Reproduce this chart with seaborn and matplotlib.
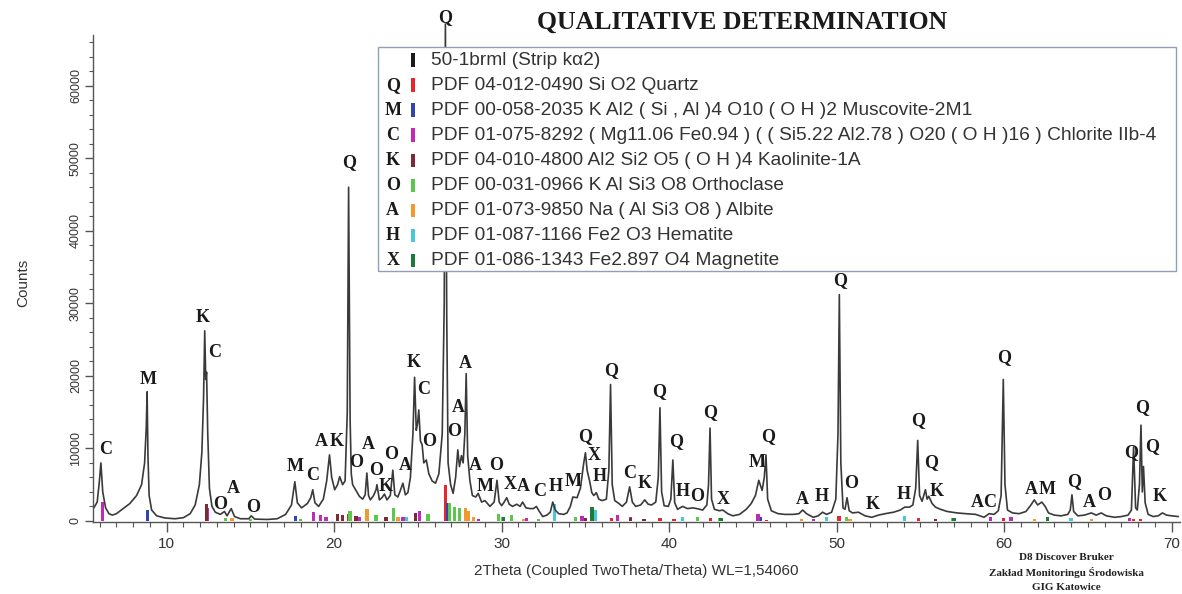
import numpy as np
import pandas as pd
import matplotlib
matplotlib.use("Agg")
import matplotlib.pyplot as plt
from matplotlib.patches import Rectangle
from matplotlib.ticker import MultipleLocator
import seaborn as sns

trace_2theta = [
    5.65, 5.85, 5.98, 6.07, 6.18, 6.35, 6.55, 6.75, 7.0, 7.4, 7.8, 8.2, 8.5,
    8.68, 8.78, 8.83, 8.88, 8.95, 9.1, 9.4, 9.9, 10.5, 11.0, 11.4, 11.7, 11.95,
    12.1, 12.2, 12.27, 12.33, 12.38, 12.45, 12.55, 12.7, 12.9, 13.2, 13.45,
    13.6, 13.85, 14.05, 14.4, 14.9, 15.05, 15.25, 16.0, 16.6, 17.1, 17.45,
    17.65, 17.8, 18.05, 18.4, 18.6, 18.72, 18.85, 19.07, 19.35, 19.55, 19.72,
    19.85, 20.03, 20.2, 20.33, 20.5, 20.65, 20.78, 20.86, 20.95, 21.02, 21.1,
    21.3, 21.5, 21.7, 21.85, 21.95, 22.05, 22.16, 22.35, 22.5, 22.55, 22.7,
    22.85, 23.0, 23.15, 23.35, 23.5, 23.62, 23.8, 23.95, 24.1, 24.25, 24.4,
    24.55, 24.7, 24.8, 24.9, 24.98, 25.05, 25.15, 25.25, 25.35, 25.5, 25.65,
    25.85, 26.05, 26.25, 26.45, 26.57, 26.64, 26.72, 26.8, 26.95, 27.1, 27.25,
    27.38, 27.48, 27.6, 27.7, 27.8, 27.88, 27.97, 28.1, 28.25, 28.45, 28.6,
    28.8, 29.0, 29.3, 29.55, 29.72, 29.85, 30.0, 30.15, 30.3, 30.45, 30.65,
    30.9, 31.1, 31.25, 31.45, 31.7, 31.9, 32.07, 32.25, 32.45, 32.7, 32.9,
    33.05, 33.2, 33.4, 33.7, 33.9, 34.1, 34.25, 34.5, 34.7, 34.9, 35.0, 35.1,
    35.25, 35.38, 35.5, 35.65, 35.8, 36.0, 36.25, 36.4, 36.5, 36.6, 36.75,
    37.0, 37.2, 37.45, 37.64, 37.8, 38.0, 38.3, 38.54, 38.75, 38.95, 39.2,
    39.35, 39.45, 39.55, 39.7, 39.95, 40.1, 40.22, 40.33, 40.5, 40.8, 41.1,
    41.4, 41.65, 42.0, 42.25, 42.35, 42.44, 42.53, 42.7, 43.0, 43.2, 43.5,
    43.8, 44.2, 44.6, 44.9, 45.15, 45.35, 45.55, 45.68, 45.78, 45.88, 46.1,
    46.5, 46.9, 47.4, 47.75, 47.97, 48.2, 48.6, 48.9, 49.16, 49.4, 49.7, 49.95,
    50.08, 50.16, 50.25, 50.38, 50.5, 50.62, 50.75, 50.95, 51.3, 51.7, 52.1,
    52.5, 52.9, 53.4, 53.8, 54.06, 54.35, 54.55, 54.72, 54.84, 54.95, 55.1,
    55.3, 55.4, 55.5, 55.7, 55.9, 56.2, 56.6, 57.2, 57.7, 58.3, 58.8, 59.1,
    59.4, 59.65, 59.82, 59.95, 60.05, 60.2, 60.5, 60.9, 61.3, 61.6, 61.8, 62.0,
    62.25, 62.45, 62.65, 63.0, 63.4, 63.8, 63.95, 64.05, 64.15, 64.4, 64.8,
    65.2, 65.5, 65.8, 66.1, 66.6, 67.0, 67.4, 67.6, 67.73, 67.85, 67.95, 68.08,
    68.17, 68.25, 68.32, 68.42, 68.6, 68.9, 69.2, 69.45, 69.7, 70.0, 70.4,
]
trace_counts = [
    1800, 2600, 5500, 8000, 4000, 1800, 1000, 800, 1000, 1700, 2400, 3500, 5000,
    8000, 13000, 17800, 9000, 3500, 1500, 700, 400, 300, 450, 1000, 2200, 5000,
    9500, 17000, 26200, 19500, 20500, 12000, 4500, 2000, 1200, 900, 1300,
    700, 1700, 600, 300, 300, 700, 250, 200, 300, 900, 2200,
    5400, 2500, 1800, 2400, 3200, 4300, 2500, 2000, 3000, 5500, 9100,
    6000, 4300, 5000, 6100, 5000, 5500, 15000, 46000, 14000, 6500, 5000,
    4200, 3400, 3000, 3600, 6600, 3500, 2900, 3500, 4300, 5000, 2900,
    3200, 3700, 2900, 3500, 7000, 3600, 3300, 4200, 5200, 3600, 3900,
    6000, 12000, 19800, 12500, 13500, 15300, 11000, 10500, 8000, 8400, 6500,
    5500, 5200, 6500, 12000, 30000, 68500, 28000, 8000, 5000, 3800, 6000,
    9800, 7500, 9000, 8000, 12000, 20300, 9000, 5600, 3500, 3300, 3800,
    2600, 2800, 2000, 2600, 5600, 2600, 2100, 2600, 3200, 2300, 2000,
    2300, 2000, 2600, 1800, 1700, 1700, 2000, 1300, 600, 800, 1200,
    2600, 1500, 1000, 900, 1100, 2000, 3300, 3200, 4500, 8000, 9400, 7000,
    5500, 3900, 3500, 3900, 3000, 2800, 3000, 7000, 18800, 5000, 2800,
    2400, 2000, 2600, 4700, 2600, 2000, 2200, 2900, 2300, 2200, 2600,
    6000, 15600, 4000, 2100, 2000, 3000, 8400, 2500, 1600, 2000, 1700,
    1800, 1700, 1500, 2200, 5000, 12800, 3000, 1600, 1400, 1500, 1000,
    700, 900, 1600, 2400, 3500, 5600, 4200, 6000, 9100, 3000, 1400,
    1000, 900, 900, 1000, 1500, 1000, 500, 700, 1200, 900, 1200, 3000,
    12000, 31200, 8000, 1800, 1600, 3200, 1400, 1100, 1200, 700, 500,
    800, 1000, 1200, 1500, 1900, 1900, 2200, 4500, 11100, 3500, 2700,
    4300, 3000, 3400, 2400, 1900, 1600, 1300, 1100, 1000, 900, 500, 1000,
    900, 1400, 3500, 19500, 5000, 1500, 1100, 1000, 1300, 2200, 2900, 2200,
    2600, 2000, 1100, 800, 700, 900, 1500, 3600, 1300, 700, 800,
    1100, 800, 1100, 700, 500, 600, 800, 1500, 10200, 1800, 1500, 5000,
    13200, 4000, 7500, 2500, 900, 600, 700, 1100, 800, 700, 600,
]

# ── Reference patterns (stick positions and heights) ─────────────────────────

quartz_pos = [20.86, 26.64, 36.54, 39.46, 40.28, 42.45, 45.8, 50.14, 54.87, 59.96, 64.03, 67.74, 68.14]
quartz_h   = [1000, 5000, 400, 350, 250, 350, 150, 700, 400, 400, 300, 250, 300]
musc_pos   = [8.84, 17.7, 26.8, 34.9, 45.45]
musc_h     = [1500, 700, 2500, 400, 600]
chlor_pos  = [6.16, 12.45, 18.78, 19.2, 19.5, 21.5, 24.1, 25.1, 28.6, 31.5, 34.8, 36.9, 37.7, 45.3, 48.6, 59.2, 60.4, 67.5]
chlor_h    = [2600, 1800, 1200, 800, 500, 600, 600, 1300, 300, 400, 700, 800, 500, 1000, 300, 500, 600, 400]
kaol_pos   = [12.36, 20.2, 20.5, 21.3, 23.1, 24.85, 35.0, 37.7, 38.5, 55.9]
kaol_h     = [2300, 900, 800, 700, 500, 1100, 400, 400, 300, 300]
orth_pos   = [13.5, 15.0, 18.0, 20.95, 22.5, 23.55, 25.6, 26.9, 27.2, 27.5, 29.8, 30.05, 30.6, 32.2, 34.4, 41.7, 43.0, 50.6, 56.9]
orth_h     = [400, 300, 300, 1300, 800, 1800, 900, 2500, 1900, 1800, 1000, 600, 800, 300, 600, 600, 400, 500, 400]
albite_pos = [13.9, 21.95, 23.8, 27.85, 28.0, 28.3, 31.3, 47.9, 50.8, 61.8, 65.2]
albite_h   = [400, 1600, 500, 1800, 1300, 500, 300, 200, 300, 300, 200]
hem_pos    = [24.3, 33.15, 35.6, 40.8, 49.4, 54.06, 64.0]
hem_h      = [500, 2300, 1500, 500, 600, 700, 400]
magn_pos   = [30.1, 35.4, 43.1, 57.0, 62.6]
magn_h     = [500, 1900, 400, 400, 600]

# ── Peak identification letters ──────────────────────────────────────────────

label_letters = list("CMKCOAOMCAKQOAOKOAKCOQOAAAMOXACHMQXHQCKQQHOQXMQAHQOKHQQKACQAMQAOQQQK")
label_x = [
    6.36, 8.87, 12.15, 12.87, 13.16, 14.0, 15.13, 17.64, 18.72, 19.25, 20.15,
    20.87, 21.3, 22.06, 22.5, 23.07, 23.4, 24.27, 24.75, 25.34, 25.64, 26.6,
    27.19, 27.43, 27.85, 28.45, 28.99, 29.64, 30.48, 31.31, 32.27, 33.22,
    34.24, 35.0, 35.55, 35.85, 36.51, 37.64, 38.54, 39.43, 40.39, 40.8, 41.64,
    42.42, 43.2, 45.28, 45.88, 47.97, 49.1, 50.18, 50.84, 52.15, 54.0, 54.84,
    55.67, 55.97, 58.42, 59.13, 59.97, 61.64, 62.54, 64.15, 65.1, 66.0, 67.61,
    68.21, 68.81, 69.28,
]
label_y = [
    9800, 19500, 28000, 23200, 2200, 4500, 1900, 7500, 6200, 10900, 10900,
    49400, 8100, 10600, 7000, 4700, 9100, 7700, 21900, 18100, 11000, 69400,
    12300, 15700, 21700, 7700, 4700, 7700, 5000, 4700, 4100, 4700,
    5400, 11600, 9000, 6100, 20800, 6600, 5100, 17800, 11000, 4000, 3300,
    15000, 3000, 8000, 11600, 2900, 3300, 33100, 5200, 2200, 3700, 13900,
    8100, 4000, 2500, 2500, 22500, 4400, 4400, 5400, 2600, 3500, 9400,
    15700, 10300, 3300,
]

# ── Legend entries ───────────────────────────────────────────────────────────

legend_letters = ["", "Q", "M", "C", "K", "O", "A", "H", "X"]
legend_colors = ["#1a1a1a", "#e8262b", "#2f45b0", "#c02ab8", "#7a2a38",
                 "#5cc84b", "#f29a2e", "#45c8d8", "#1d7a3a"]
legend_texts = [
    "50-1brml (Strip k\u03b12)",
    "PDF 04-012-0490 Si O2 Quartz",
    "PDF 00-058-2035 K Al2 ( Si , Al )4 O10 ( O H )2 Muscovite-2M1",
    "PDF 01-075-8292 ( Mg11.06 Fe0.94 ) ( ( Si5.22 Al2.78 ) O20 ( O H )16 ) Chlorite IIb-4",
    "PDF 04-010-4800 Al2 Si2 O5 ( O H )4 Kaolinite-1A",
    "PDF 00-031-0966 K Al Si3 O8 Orthoclase",
    "PDF 01-073-9850 Na ( Al Si3 O8 ) Albite",
    "PDF 01-087-1166 Fe2 O3 Hematite",
    "PDF 01-086-1343 Fe2.897 O4 Magnetite",
]

# ── Figure ───────────────────────────────────────────────────────────────────

sns.set_theme(style="white")
plt.rcParams["font.family"] = ["Liberation Sans", "DejaVu Sans"]
SERIF = ["Liberation Serif", "DejaVu Serif"]
INK = "#333333"

fig = plt.figure(figsize=(11.82, 5.94), dpi=100)
ax = fig.add_axes([0.0787, 0.1212, 0.9196, 0.820])

# reference sticks
sticks = [
    (quartz_pos, quartz_h, legend_colors[1]),
    (musc_pos, musc_h, legend_colors[2]),
    (chlor_pos, chlor_h, legend_colors[3]),
    (kaol_pos, kaol_h, legend_colors[4]),
    (orth_pos, orth_h, legend_colors[5]),
    (albite_pos, albite_h, legend_colors[6]),
    (hem_pos, hem_h, legend_colors[7]),
    (magn_pos, magn_h, legend_colors[8]),
]
for pos, h, col in sticks:
    ax.bar(pos, h, width=0.2, color=col, linewidth=0, zorder=1)

trace = pd.DataFrame({"two_theta": trace_2theta, "counts": trace_counts})
sns.lineplot(data=trace, x="two_theta", y="counts", ax=ax, estimator=None,
             sort=False, color="#3a3a3a", linewidth=1.2, zorder=2)
for line in ax.lines:
    line.set_clip_on(False)

for letter, lx, ly in zip(label_letters, label_x, label_y):
    ax.text(lx, ly, letter, ha="center", va="center", fontsize=13,
            fontweight="bold", family=SERIF, color="#1a1a1a", clip_on=False,
            zorder=3)

ax.set_xlim(5.6, 70.5)
ax.set_ylim(-150, 67000)
sns.despine(ax=ax)
for side in ("left", "bottom"):
    ax.spines[side].set_color("#555555")
    ax.spines[side].set_linewidth(1.0)

ax.xaxis.set_major_locator(MultipleLocator(10))
ax.xaxis.set_minor_locator(MultipleLocator(1))
ax.yaxis.set_major_locator(MultipleLocator(10000))
ax.yaxis.set_minor_locator(MultipleLocator(2000))
ax.tick_params(axis="both", which="both", direction="out", colors="#555555",
               labelcolor=INK, bottom=True, left=True)
ax.tick_params(axis="x", which="major", length=7, width=1, labelsize=11, pad=4)
ax.tick_params(axis="x", which="minor", length=3.5, width=0.8)
ax.tick_params(axis="y", which="major", length=6, width=1, labelsize=9, pad=2)
ax.tick_params(axis="y", which="minor", length=3, width=0.8)
plt.setp(ax.get_yticklabels(), rotation=90, va="center")

ax.set_xlabel("2Theta (Coupled TwoTheta/Theta) WL=1,54060", fontsize=11,
              color=INK, labelpad=9)
ax.set_ylabel("Counts", fontsize=11, color=INK)
ax.yaxis.set_label_coords(-0.058, 0.49)
ax.grid(False)

# legend box (drawn in data units over the pattern)
box_x0, box_x1 = 22.6, 70.24
box_y0, box_y1 = 34400, 65300
ax.add_patch(Rectangle((box_x0, box_y0), box_x1 - box_x0, box_y1 - box_y0,
                       facecolor="white", edgecolor="#8fa0b4", linewidth=1.0,
                       zorder=5, clip_on=False))
row_top, row_step = 63500, 3450
for i, (letter, col, txt) in enumerate(zip(legend_letters, legend_colors, legend_texts)):
    yy = row_top - i * row_step
    ax.text(23.5, yy, letter, ha="center", va="center", fontsize=13,
            fontweight="bold", family=SERIF, color="#1a1a1a", zorder=6)
    ax.add_patch(Rectangle((24.57, yy - 950), 0.24, 1900, facecolor=col,
                           edgecolor="none", zorder=6))
    ax.text(25.8, yy, txt, ha="left", va="center", fontsize=13.8, color=INK,
            zorder=6)

fig.text(742 / 1182, 1 - 22 / 594, "QUALITATIVE DETERMINATION", ha="center",
         va="center", fontsize=18.5, fontweight="bold", family=SERIF,
         color="#1a1a1a")
for k, line in enumerate(["D8 Discover Bruker", "Zak\u0142ad Monitoringu \u015arodowiska",
                          "GIG Katowice"]):
    fig.text(1066 / 1182, 1 - (558 + 14.5 * k) / 594, line, ha="center",
             va="center", fontsize=8, fontweight="bold", family=SERIF,
             color="#222222")

fig.savefig("out.png", dpi=100)
